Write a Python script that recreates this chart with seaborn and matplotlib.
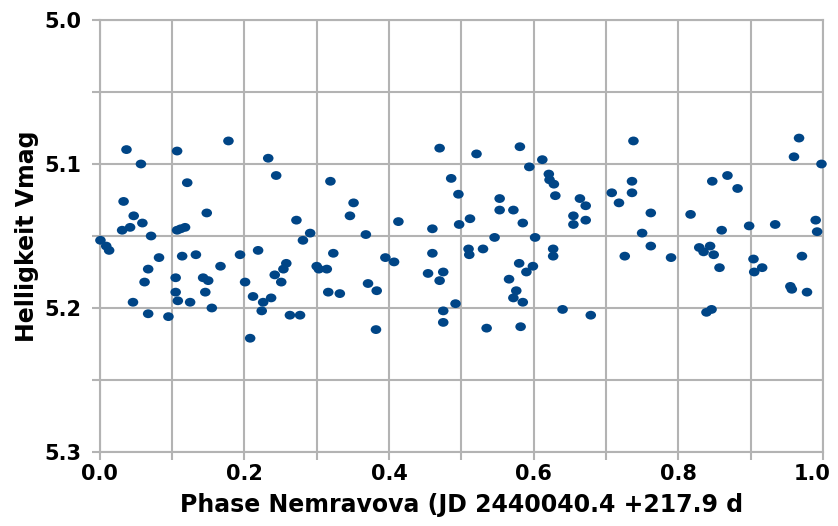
import matplotlib
matplotlib.use("Agg")
import matplotlib.pyplot as plt
import seaborn as sns
import pandas as pd
from matplotlib.ticker import MultipleLocator, FixedLocator
from matplotlib.path import Path
from matplotlib.transforms import ScaledTranslation

phase = [
    0.037, 0.057, 0.107, 0.178, 0.233, 0.244, 0.121, 0.033, 0.047, 0.059,
    0.031, 0.042, 0.148, 0.107, 0.118, 0.112, 0.001, 0.009, 0.013, 0.071,
    0.082, 0.114, 0.133, 0.194, 0.219, 0.067, 0.062, 0.167, 0.105, 0.143,
    0.150, 0.201, 0.242, 0.105, 0.146, 0.046, 0.108, 0.125, 0.155, 0.212,
    0.226, 0.237, 0.224, 0.067, 0.095, 0.208,
    0.470, 0.319, 0.486, 0.496, 0.351, 0.346, 0.272, 0.413, 0.460, 0.497,
    0.291, 0.281, 0.368, 0.323, 0.395, 0.407, 0.460, 0.258, 0.254, 0.251,
    0.300, 0.303, 0.314, 0.454, 0.475, 0.470, 0.371, 0.383, 0.316, 0.332,
    0.263, 0.277, 0.492, 0.475, 0.475, 0.382,
    0.521, 0.581, 0.612, 0.594, 0.738, 0.621, 0.622, 0.628, 0.630, 0.736,
    0.736, 0.708, 0.718, 0.553, 0.553, 0.572, 0.585, 0.512, 0.664, 0.672,
    0.655, 0.655, 0.672, 0.546, 0.602, 0.510, 0.511, 0.530, 0.627, 0.627,
    0.726, 0.580, 0.599, 0.590, 0.566, 0.576, 0.572, 0.585, 0.640, 0.679,
    0.535, 0.582,
    0.762, 0.750, 0.762, 0.790, 0.847, 0.868, 0.882, 0.817, 0.860, 0.898,
    0.934, 0.990, 0.992, 0.967, 0.960, 0.998, 0.829, 0.835, 0.844, 0.849,
    0.857, 0.904, 0.905, 0.916, 0.971, 0.955, 0.957, 0.978, 0.839, 0.846,
]
vmag = [
    5.090, 5.100, 5.091, 5.084, 5.096, 5.108, 5.113, 5.126, 5.136, 5.141,
    5.146, 5.144, 5.134, 5.146, 5.144, 5.145, 5.153, 5.157, 5.160, 5.150,
    5.165, 5.164, 5.163, 5.163, 5.160, 5.173, 5.182, 5.171, 5.179, 5.179,
    5.181, 5.182, 5.177, 5.189, 5.189, 5.196, 5.195, 5.196, 5.200, 5.192,
    5.196, 5.193, 5.202, 5.204, 5.206, 5.221,
    5.089, 5.112, 5.110, 5.121, 5.127, 5.136, 5.139, 5.140, 5.145, 5.142,
    5.148, 5.153, 5.149, 5.162, 5.165, 5.168, 5.162, 5.169, 5.173, 5.182,
    5.171, 5.173, 5.173, 5.176, 5.175, 5.181, 5.183, 5.188, 5.189, 5.190,
    5.205, 5.205, 5.197, 5.202, 5.210, 5.215,
    5.093, 5.088, 5.097, 5.102, 5.084, 5.107, 5.111, 5.114, 5.122, 5.112,
    5.120, 5.120, 5.127, 5.124, 5.132, 5.132, 5.141, 5.138, 5.124, 5.129,
    5.136, 5.142, 5.139, 5.151, 5.151, 5.159, 5.163, 5.159, 5.159, 5.164,
    5.164, 5.169, 5.171, 5.175, 5.180, 5.188, 5.193, 5.196, 5.201, 5.205,
    5.214, 5.213,
    5.134, 5.148, 5.157, 5.165, 5.112, 5.108, 5.117, 5.135, 5.146, 5.143,
    5.142, 5.139, 5.147, 5.082, 5.095, 5.100, 5.158, 5.161, 5.157, 5.163,
    5.172, 5.166, 5.175, 5.172, 5.164, 5.185, 5.187, 5.189, 5.203, 5.201,
]

x_ticks = [0.0, 0.2, 0.4, 0.6, 0.8, 1.0]
x_labels = ["0.0", "0.2", "0.4", "0.6", "0.8", "1.0"]
y_ticks = [5.0, 5.1, 5.2, 5.3]
y_labels = ["5.0", "5.1", "5.2", "5.3"]

df = pd.DataFrame({"phase": phase, "vmag": vmag})

sns.set_style("white")
plt.rcParams["font.family"] = ["DejaVu Sans"]
plt.rcParams["text.color"] = "black"
plt.rcParams["axes.labelcolor"] = "black"

fig = plt.figure(figsize=(8.38, 5.26), dpi=100)
ax = fig.add_axes([0.119, 0.1407, 0.863, 0.8213])

# slightly wide elliptical dot, as in the reference
circ = Path.unit_circle()
ell = Path(circ.vertices * [1.2, 1.0], circ.codes)

grid_c = "#b3b3b3"
ax.set_xlim(0, 1.0)
ax.set_ylim(5.3, 5.0)
ax.xaxis.set_major_locator(FixedLocator(x_ticks))
ax.xaxis.set_minor_locator(MultipleLocator(0.1))
ax.yaxis.set_major_locator(FixedLocator(y_ticks))
ax.yaxis.set_minor_locator(MultipleLocator(0.05))
ax.set_xticklabels(x_labels)
ax.set_yticklabels(y_labels)
ax.grid(True, which="both", color=grid_c, linewidth=1.5)
ax.set_axisbelow(True)
for s in ax.spines.values():
    s.set_color(grid_c)
    s.set_linewidth(1.5)

sns.scatterplot(data=df, x="phase", y="vmag", ax=ax, color="#004586",
                marker=ell, s=58, edgecolor="none", zorder=3, clip_on=False)

ax.tick_params(axis="y", which="both", left=True, length=6, width=1.5,
               color=grid_c, labelsize=15, pad=7, labelcolor="black")
ax.tick_params(axis="x", which="both", bottom=True, length=6, width=1.5,
               color=grid_c, labelsize=15, pad=3, labelcolor="black")
for lbl in ax.get_xticklabels() + ax.get_yticklabels():
    lbl.set_fontweight("bold")
last = ax.get_xticklabels()[-1]
last.set_transform(last.get_transform() + ScaledTranslation(-8 / 72, 0, fig.dpi_scale_trans))

ax.set_xlabel("Phase Nemravova (JD 2440040.4 +217.9 d", fontsize=17,
              fontweight="bold", labelpad=6, color="black")
ax.set_ylabel("Helligkeit Vmag", fontsize=17, fontweight="bold", labelpad=4,
              color="black")

fig.savefig("out.png", dpi=100)
